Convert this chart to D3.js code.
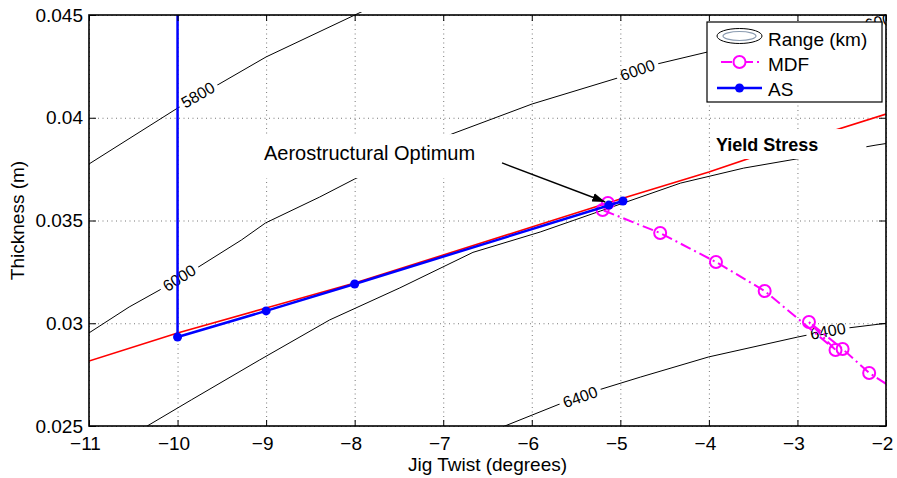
<!DOCTYPE html>
<html>
<head>
<meta charset="utf-8">
<script src="https://cdn.jsdelivr.net/npm/d3@7"></script>
<style>
  body { margin: 0; background: #fff; }
  text { font-family: "Liberation Sans", Arial, sans-serif; }
</style>
</head>
<body>
<div id="chart"></div>
<script>
// axis ticks
const xTicks = [-11, -10, -9, -8, -7, -6, -5, -4, -3, -2];
const xTickLabels = ["−11", "−10", "−9", "−8", "−7", "−6", "−5", "−4", "−3", "−2"];
const yTicks = [0.025, 0.03, 0.035, 0.04, 0.045];
const yTickLabels = ["0.025", "0.03", "0.035", "0.04", "0.045"];

// range contours (jig twist, thickness)
const contour5800 = [[-11, 0.03775], [-10, 0.04047], [-9, 0.04296], [-7.9, 0.0452]];
const contour6000 = [[-11, 0.02953], [-10.547, 0.03079], [-9.981, 0.03215], [-9.279, 0.03405],
  [-9.007, 0.03488], [-8.396, 0.03614], [-8.0, 0.03702], [-6.902, 0.03921], [-5.996, 0.04067],
  [-5.034, 0.04193], [-4.581, 0.04262], [-4.015, 0.0432], [-2.192, 0.04471], [-1.83, 0.0451]];
const contour6200 = [[-10.434, 0.02476], [-10.343, 0.025], [-9.845, 0.02627], [-9.075, 0.02821],
  [-8.283, 0.03016], [-7.49, 0.03172], [-6.664, 0.03345], [-5.905, 0.03444], [-5.226, 0.03546],
  [-4.32, 0.03682], [-3.607, 0.03755], [-2.883, 0.03809], [-2.113, 0.03867], [-1.887, 0.03882]];
const contour6400 = [[-6.472, 0.02471], [-5.656, 0.02612], [-5.249, 0.02675], [-4.773, 0.02738],
  [-4.003, 0.02836], [-2.996, 0.02933], [-2.883, 0.02943], [-2.43, 0.02977], [-1.977, 0.03001]];

// inline contour label positions
const labels5800 = [[-9.77, 0.04111]];
const labels6000 = [[-9.981, 0.0322], [-4.807, 0.04232], [-2.04, 0.04472]];
const labels6200 = [[-2.49, 0.03841]];
const labels6400 = [[-5.453, 0.02641], [-2.656, 0.02962]];

// yield stress constraint
const yieldX = [-11, -10, -9, -8, -7, -6, -5, -4, -3, -2];
const yieldY = [0.02816, 0.02953, 0.03074, 0.03196, 0.03332, 0.03468, 0.03605, 0.03736, 0.03882, 0.04018];

// optimizer histories
const mdfX = [-1.8, -2.19, -2.49, -2.87, -2.57, -3.37, -3.92, -4.55, -5.20, -5.14];
const mdfY = [0.0265, 0.02758, 0.02875, 0.03006, 0.0287, 0.03157, 0.03298, 0.03439, 0.03551, 0.03585];
const asX = [-10, -10, -9, -8, -4.97, -5.13];
const asY = [0.05, 0.02933, 0.0306, 0.03191, 0.03595, 0.03575];

// annotations
const aeroText = { text: "Aerostructural Optimum", x: -9.024, y: 0.03794 };
const arrowFrom = [-6.336, 0.0378];
const arrowTo = [-5.17, 0.0359];
const yieldText = { text: "Yield Stress", x: -3.92, y: 0.03838 };

const W = 897, H = 478;
const P = { left: 89, right: 886, top: 15, bottom: 426 };

const x = d3.scaleLinear().domain([-11, -2]).range([P.left, P.right]);
const y = d3.scaleLinear().domain([0.025, 0.045]).range([P.bottom, P.top]);

const svg = d3.select("#chart").append("svg")
  .attr("width", W).attr("height", H);
const defs = svg.append("defs");

defs.append("clipPath").attr("id", "plotClip")
  .append("rect")
  .attr("x", P.left).attr("y", P.top - 3)
  .attr("width", P.right - P.left).attr("height", P.bottom - P.top + 3);

defs.append("marker")
  .attr("id", "arrowHead")
  .attr("markerUnits", "userSpaceOnUse")
  .attr("viewBox", "0 0 12 8")
  .attr("refX", 12).attr("refY", 4)
  .attr("markerWidth", 13).attr("markerHeight", 9)
  .attr("orient", "auto")
  .append("path").attr("d", "M0,0L12,4L0,8Z").attr("fill", "#000");

// grid
const gridStyle = (g) => {
  g.select(".domain").remove();
  g.selectAll("line").attr("stroke", "#777").attr("stroke-dasharray", "1,3.5");
};
svg.append("g")
  .attr("transform", `translate(0,${P.bottom})`)
  .call(d3.axisBottom(x).tickValues(xTicks).tickSize(-(P.bottom - P.top)).tickFormat(""))
  .call(gridStyle);
svg.append("g")
  .attr("transform", `translate(${P.left},0)`)
  .call(d3.axisLeft(y).tickValues(yTicks).tickSize(-(P.right - P.left)).tickFormat(""))
  .call(gridStyle);

const plot = svg.append("g").attr("clip-path", "url(#plotClip)");

// contours
const contours = [
  { level: "5800", points: contour5800, labels: labels5800 },
  { level: "6000", points: contour6000, labels: labels6000 },
  { level: "6200", points: contour6200, labels: labels6200 },
  { level: "6400", points: contour6400, labels: labels6400 },
];
const line = d3.line().x((d) => x(d[0])).y((d) => y(d[1]));

const mask = defs.append("mask").attr("id", "gapMask")
  .attr("maskUnits", "userSpaceOnUse")
  .attr("x", 0).attr("y", 0).attr("width", W).attr("height", H);
mask.append("rect").attr("width", W).attr("height", H).attr("fill", "#fff");

const contourG = plot.append("g").attr("mask", "url(#gapMask)");
contourG.selectAll("path").data(contours).join("path")
  .attr("d", (c) => line(c.points))
  .attr("fill", "none").attr("stroke", "#000").attr("stroke-width", 1)
  .attr("clip-path", "url(#plotClip)");

function labelAngle(points, lx, ly) {
  let best = null, bestD = Infinity;
  for (let i = 0; i < points.length - 1; i++) {
    const x1 = x(points[i][0]), y1 = y(points[i][1]);
    const x2 = x(points[i + 1][0]), y2 = y(points[i + 1][1]);
    const dx = x2 - x1, dy = y2 - y1;
    const len2 = dx * dx + dy * dy;
    let t = ((lx - x1) * dx + (ly - y1) * dy) / len2;
    t = Math.max(0, Math.min(1, t));
    const px = x1 + t * dx, py = y1 + t * dy;
    const d = (px - lx) ** 2 + (py - ly) ** 2;
    if (d < bestD) { bestD = d; best = Math.atan2(dy, dx) * 180 / Math.PI; }
  }
  if (best > 90) best -= 180;
  if (best < -90) best += 180;
  return best;
}

const labelData = contours.flatMap((c) =>
  c.labels.map((l) => {
    const lx = x(l[0]), ly = y(l[1]);
    return { text: c.level, lx, ly, angle: labelAngle(c.points, lx, ly) };
  })
);

const labelText = plot.append("g").selectAll("text").data(labelData).join("text")
  .attr("transform", (d) => `translate(${d.lx},${d.ly}) rotate(${d.angle})`)
  .attr("text-anchor", "middle")
  .attr("dy", "0.35em")
  .attr("font-size", 16)
  .attr("fill", "#000")
  .text((d) => d.text);

labelText.each(function (d) {
  const w = this.getComputedTextLength() + 8;
  mask.append("rect")
    .attr("x", -w / 2).attr("y", -7).attr("width", w).attr("height", 14)
    .attr("transform", `translate(${d.lx},${d.ly}) rotate(${d.angle})`)
    .attr("fill", "#000");
});

// yield stress constraint
const inner = svg.append("g").attr("clip-path", "url(#plotClip)");
inner.append("path")
  .attr("d", d3.line().x((d, i) => x(yieldX[i])).y((d, i) => y(yieldY[i]))(yieldX))
  .attr("fill", "none").attr("stroke", "#ff0000").attr("stroke-width", 1.6);

// MDF history
const mdfPts = mdfX.map((v, i) => [v, mdfY[i]]);
inner.append("path")
  .attr("d", line(mdfPts))
  .attr("fill", "none").attr("stroke", "#ff00ff").attr("stroke-width", 2)
  .attr("stroke-dasharray", "11,4,2,4");
inner.append("g").selectAll("circle").data(mdfPts).join("circle")
  .attr("cx", (d) => x(d[0])).attr("cy", (d) => y(d[1])).attr("r", 6)
  .attr("fill", "none").attr("stroke", "#ff00ff").attr("stroke-width", 2);

// AS history
const asPts = asX.map((v, i) => [v, asY[i]]);
inner.append("path")
  .attr("d", line(asPts.map((d) => [d[0], Math.min(d[1], 0.045)])))
  .attr("fill", "none").attr("stroke", "#0000ff").attr("stroke-width", 2.5);
inner.append("g").selectAll("circle").data(asPts.filter((d) => d[1] <= 0.045)).join("circle")
  .attr("cx", (d) => x(d[0])).attr("cy", (d) => y(d[1])).attr("r", 4.5)
  .attr("fill", "#0000ff");

// annotation texts with white backgrounds
function boxedText(spec, size, weight, pad) {
  const g = inner.append("g");
  const rect = g.append("rect").attr("fill", "#fff");
  const t = g.append("text")
    .attr("x", x(spec.x)).attr("y", y(spec.y))
    .attr("font-size", size).attr("font-weight", weight)
    .attr("fill", "#000").text(spec.text);
  const b = t.node().getBBox();
  rect.attr("x", b.x - pad[0]).attr("y", b.y - pad[2])
    .attr("width", b.width + pad[0] + pad[1])
    .attr("height", b.height + pad[2] + pad[3]);
}
boxedText(aeroText, 20, "normal", [8, 6, 8, 14]);
boxedText(yieldText, 18, "bold", [4, 48, 6, 4]);

inner.append("line")
  .attr("x1", x(arrowFrom[0])).attr("y1", y(arrowFrom[1]))
  .attr("x2", x(arrowTo[0])).attr("y2", y(arrowTo[1]))
  .attr("stroke", "#000").attr("stroke-width", 1.4)
  .attr("marker-end", "url(#arrowHead)");

// axes
const axisStyle = (g) => {
  g.select(".domain").remove();
  g.selectAll(".tick line").attr("stroke", "#000");
  g.selectAll("text").attr("font-family", "'Liberation Sans', Arial, sans-serif")
    .attr("font-size", 19).attr("fill", "#000");
};
svg.append("g").attr("transform", `translate(0,${P.bottom})`)
  .call(d3.axisBottom(x).tickValues(xTicks).tickFormat((d, i) => xTickLabels[i])
    .tickSizeInner(-6).tickSizeOuter(0).tickPadding(11))
  .call(axisStyle)
  .selectAll("text").attr("dx", -4);
svg.append("g").attr("transform", `translate(0,${P.top})`)
  .call(d3.axisTop(x).tickValues(xTicks).tickFormat("").tickSizeInner(-6).tickSizeOuter(0))
  .call(axisStyle);
svg.append("g").attr("transform", `translate(${P.left},0)`)
  .call(d3.axisLeft(y).tickValues(yTicks).tickFormat((d, i) => yTickLabels[i])
    .tickSizeInner(-7).tickSizeOuter(0).tickPadding(6))
  .call(axisStyle);
svg.append("g").attr("transform", `translate(${P.right},0)`)
  .call(d3.axisRight(y).tickValues(yTicks).tickFormat("").tickSizeInner(-7).tickSizeOuter(0))
  .call(axisStyle);

svg.append("rect")
  .attr("x", P.left).attr("y", P.top)
  .attr("width", P.right - P.left).attr("height", P.bottom - P.top)
  .attr("fill", "none").attr("stroke", "#000").attr("stroke-width", 1.6);

svg.append("text")
  .attr("x", (P.left + P.right) / 2).attr("y", 471)
  .attr("text-anchor", "middle").attr("font-size", 19)
  .text("Jig Twist (degrees)");
svg.append("text")
  .attr("transform", `translate(24,${(P.top + P.bottom) / 2}) rotate(-90)`)
  .attr("text-anchor", "middle").attr("font-size", 19)
  .text("Thickness (m)");

// legend
const legend = svg.append("g");
legend.append("rect")
  .attr("x", 707).attr("y", 22).attr("width", 175).attr("height", 80)
  .attr("fill", "#fff").attr("stroke", "#000").attr("stroke-width", 1.2);
const rowY = [38, 63, 88];
const legendNames = ["Range (km)", "MDF", "AS"];
legend.append("ellipse").attr("cx", 739.5).attr("cy", rowY[0] - 2).attr("rx", 22.5).attr("ry", 7.5)
  .attr("fill", "none").attr("stroke", "#000").attr("stroke-width", 1);
legend.append("ellipse").attr("cx", 739.5).attr("cy", rowY[0] - 2).attr("rx", 16.5).attr("ry", 4.5)
  .attr("fill", "none").attr("stroke", "#8a9bb0").attr("stroke-width", 1.2);
legend.append("line").attr("x1", 717).attr("x2", 762).attr("y1", rowY[1] - 1).attr("y2", rowY[1] - 1)
  .attr("stroke", "#ff00ff").attr("stroke-width", 2).attr("stroke-dasharray", "11,4,2,4")
  .attr("stroke-dashoffset", -4);
legend.append("circle").attr("cx", 739.5).attr("cy", rowY[1] - 1).attr("r", 6)
  .attr("fill", "#fff").attr("stroke", "#ff00ff").attr("stroke-width", 2);
legend.append("line").attr("x1", 717).attr("x2", 762).attr("y1", rowY[2]).attr("y2", rowY[2])
  .attr("stroke", "#0000ff").attr("stroke-width", 2.5);
legend.append("circle").attr("cx", 739.5).attr("cy", rowY[2]).attr("r", 4.5).attr("fill", "#0000ff");
legend.selectAll("text.name").data(legendNames).join("text")
  .attr("class", "name")
  .attr("x", 768).attr("y", (d, i) => rowY[i] + 1)
  .attr("dy", "0.35em").attr("font-size", 19).attr("fill", "#000")
  .text((d) => d);
</script>
</body>
</html>
